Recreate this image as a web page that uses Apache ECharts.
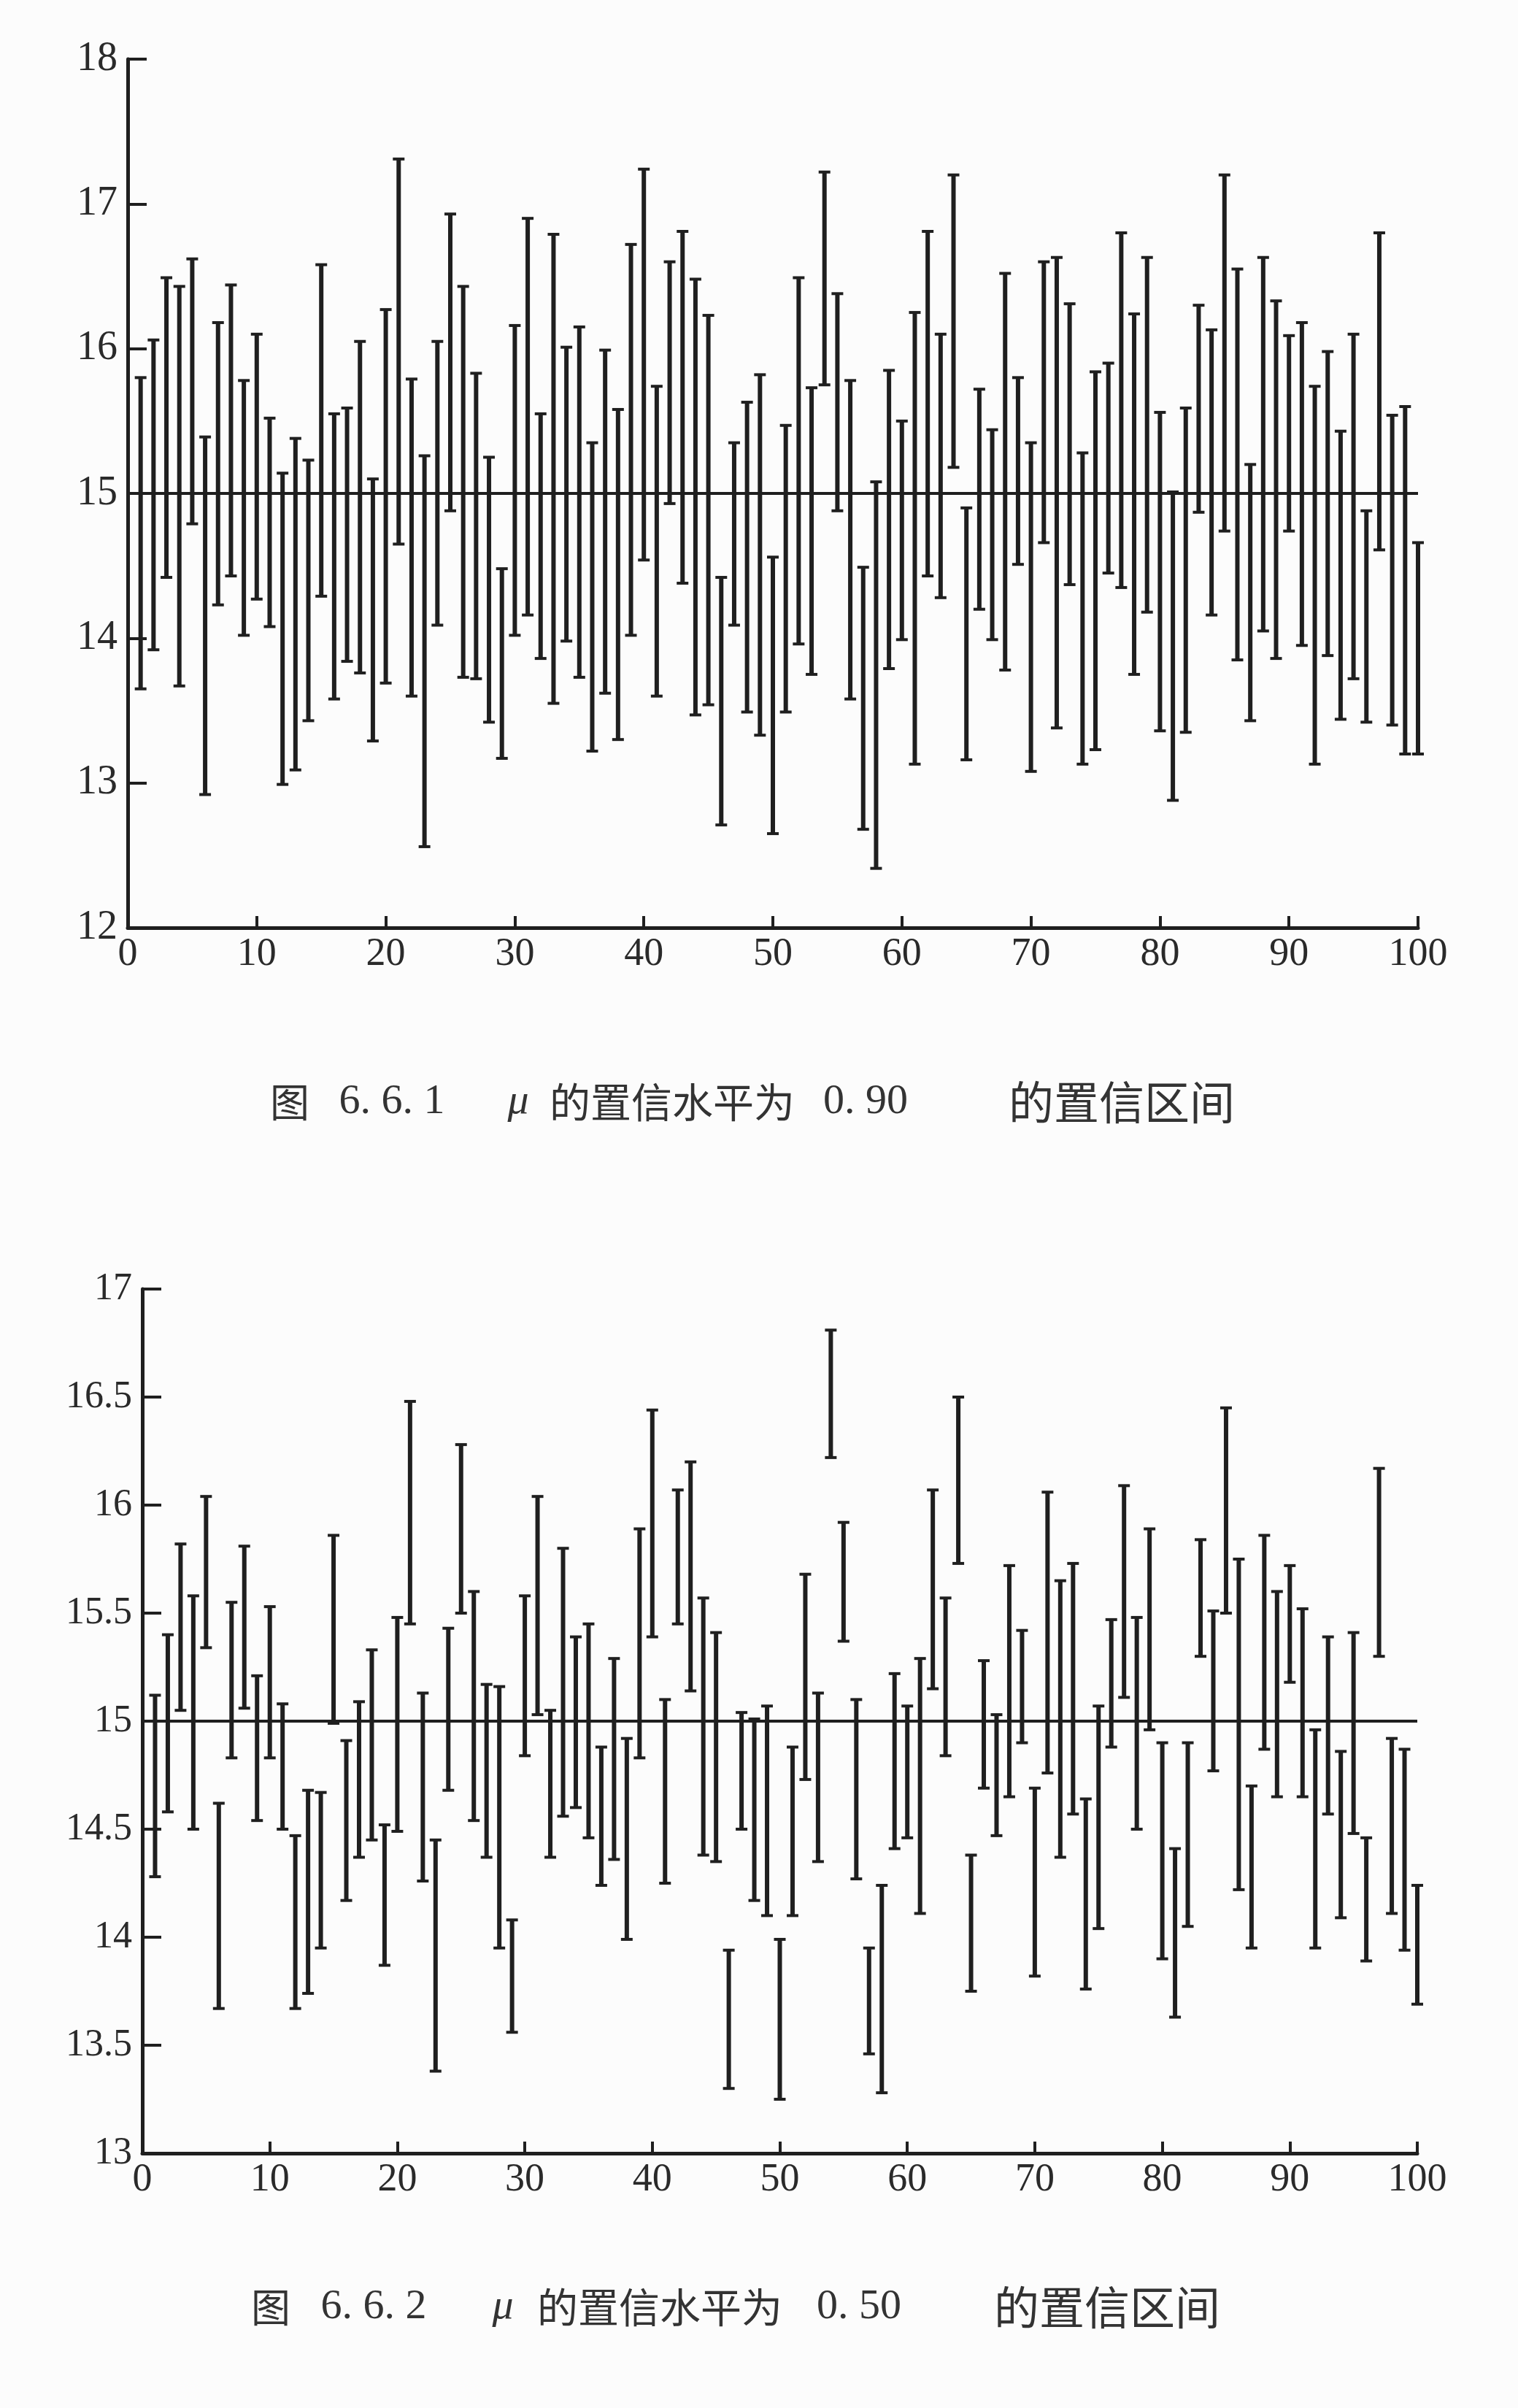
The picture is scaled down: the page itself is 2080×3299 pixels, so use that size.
<!DOCTYPE html>
<html>
<head>
<meta charset="utf-8">
<script src="https://cdn.jsdelivr.net/npm/echarts@6/dist/echarts.min.js"></script>
<style>
html,body{margin:0;padding:0;background:#fcfcfc;}
#chart{width:2080px;height:3299px;}
</style>
</head>
<body>
<div id="chart"></div>
<script>
// sample numbers (x positions of the 100 intervals)
const sampleNo = [1,2,3,4,5,6,7,8,9,10,11,12,13,14,15,16,17,18,19,20,21,22,23,24,25,26,27,28,29,30,31,32,33,34,35,36,37,38,39,40,41,42,43,44,45,46,47,48,49,50,51,52,53,54,55,56,57,58,59,60,61,62,63,64,65,66,67,68,69,70,71,72,73,74,75,76,77,78,79,80,81,82,83,84,85,86,87,88,89,90,91,92,93,94,95,96,97,98,99,100];

// Figure 6.6.1 : confidence level 0.90
const lower90 = [13.65,13.92,14.42,13.67,14.79,12.92,14.23,14.43,14.02,14.27,
  14.08,12.99,13.09,13.43,14.29,13.58,13.84,13.76,13.29,13.69,
  14.65,13.60,12.56,14.09,14.88,13.73,13.72,13.42,13.17,14.02,
  14.16,13.86,13.55,13.98,13.73,13.22,13.62,13.30,14.02,14.54,
  13.60,14.93,14.38,13.47,13.54,12.71,14.09,13.49,13.33,12.65,
  13.49,13.96,13.75,15.75,14.88,13.58,12.68,12.41,13.79,13.99,
  13.13,14.43,14.28,15.18,13.16,14.20,13.99,13.78,14.51,13.08,
  14.66,13.38,14.37,13.13,13.23,14.45,14.35,13.75,14.18,13.36,
  12.88,13.35,14.87,14.16,14.74,13.85,13.43,14.05,13.86,14.74,
  13.95,13.13,13.88,13.44,13.72,13.42,14.61,13.40,13.20,13.20];
const upper90 = [15.80,16.06,16.49,16.43,16.62,15.39,16.18,16.44,15.78,16.10,
  15.52,15.14,15.38,15.23,16.58,15.55,15.59,16.05,15.10,16.27,
  17.31,15.79,15.26,16.05,16.93,16.43,15.83,15.25,14.48,16.16,
  16.90,15.55,16.79,16.01,16.15,15.35,15.99,15.58,16.72,17.24,
  15.74,16.60,16.81,16.48,16.23,14.42,15.35,15.63,15.82,14.56,
  15.47,16.49,15.73,17.22,16.38,15.78,14.49,15.08,15.85,15.50,
  16.25,16.81,16.10,17.20,14.90,15.72,15.44,16.52,15.80,15.35,
  16.60,16.63,16.31,15.28,15.84,15.90,16.80,16.24,16.63,15.56,
  15.01,15.59,16.30,16.13,17.20,16.55,15.20,16.63,16.33,16.09,
  16.18,15.74,15.98,15.43,16.10,14.88,16.80,15.54,15.60,14.66];

// Figure 6.6.2 : confidence level 0.50
const lower50 = [14.28,14.58,15.05,14.50,15.34,13.67,14.83,15.06,14.54,14.83,
  14.50,13.67,13.74,13.95,14.99,14.17,14.37,14.45,13.87,14.49,
  15.45,14.26,13.38,14.68,15.50,14.54,14.37,13.95,13.56,14.84,
  15.03,14.37,14.56,14.60,14.46,14.24,14.36,13.99,14.83,15.39,
  14.25,15.45,15.14,14.38,14.35,13.30,14.50,14.17,14.10,13.25,
  14.10,14.73,14.35,16.22,15.37,14.27,13.46,13.28,14.41,14.46,
  14.11,15.15,14.84,15.73,13.75,14.69,14.47,14.65,14.90,13.82,
  14.76,14.37,14.57,13.76,14.04,14.88,15.11,14.50,14.96,13.90,
  13.63,14.05,15.30,14.77,15.50,14.22,13.95,14.87,14.65,15.18,
  14.65,13.95,14.57,14.09,14.48,13.89,15.30,14.11,13.94,13.69];
const upper50 = [15.12,15.40,15.82,15.58,16.04,14.62,15.55,15.81,15.21,15.53,
  15.08,14.47,14.68,14.67,15.86,14.91,15.09,15.33,14.52,15.48,
  16.48,15.13,14.45,15.43,16.28,15.60,15.17,15.16,14.08,15.58,
  16.04,15.05,15.80,15.39,15.45,14.88,15.29,14.92,15.89,16.44,
  15.10,16.07,16.20,15.57,15.41,13.94,15.04,15.01,15.07,13.99,
  14.88,15.68,15.13,16.81,15.92,15.10,13.95,14.24,15.22,15.07,
  15.29,16.07,15.57,16.50,14.38,15.28,15.03,15.72,15.42,14.69,
  16.06,15.65,15.73,14.64,15.07,15.47,16.09,15.48,15.89,14.90,
  14.41,14.90,15.84,15.51,16.45,15.75,14.70,15.86,15.60,15.72,
  15.52,14.96,15.39,14.86,15.41,14.46,16.17,14.92,14.87,14.24];

// true mean and x range of the reference line
const mu = 15;
const xRange = [0, 100];

// axis tick labels
const xTicks = [0,10,20,30,40,50,60,70,80,90,100];
const yTicks90 = [12,13,14,15,16,17,18];
const yTicks50 = [13,13.5,14,14.5,15,15.5,16,16.5,17];

// captions
const caption1 = ['图', '6. 6. 1', 'μ', '的置信水平为', '0. 90', '的置信区间'];
const caption2 = ['图', '6. 6. 2', 'μ', '的置信水平为', '0. 50', '的置信区间'];

const INK = '#1f1f1f';
const serif = '"Liberation Serif","DejaVu Serif",serif';
const cjk = '"Noto Sans CJK SC","Noto Sans",sans-serif';

function renderInterval(params, api) {
  const x = api.value(0), lo = api.value(1), hi = api.value(2);
  const p1 = api.coord([x, lo]);
  const p2 = api.coord([x, hi]);
  const hw = 8;
  return {
    type: 'group',
    children: [
      {type:'line', shape:{x1:p1[0], y1:p1[1], x2:p2[0], y2:p2[1]}, style:{stroke:INK, lineWidth:6}},
      {type:'line', shape:{x1:p1[0]-hw, y1:p1[1], x2:p1[0]+hw, y2:p1[1]}, style:{stroke:INK, lineWidth:4}},
      {type:'line', shape:{x1:p2[0]-hw, y1:p2[1], x2:p2[0]+hw, y2:p2[1]}, style:{stroke:INK, lineWidth:4}}
    ]
  };
}

function xAxisCfg(gridIndex) {
  return {
    type:'value', gridIndex, min:xTicks[0], max:xTicks[xTicks.length-1], interval:10,
    axisLine:{show:true, lineStyle:{color:INK, width:5}},
    axisTick:{show:true, inside:true, length:16, lineStyle:{color:INK, width:4}},
    splitLine:{show:false},
    axisLabel:{show:true, margin:10, fontFamily:serif, fontSize:54, color:'#2a2a2a',
      formatter:(v)=> xTicks.includes(v) ? String(v) : ''}
  };
}
function yAxisCfg(gridIndex, ticks, interval, fs) {
  return {
    type:'value', gridIndex, min:ticks[0], max:ticks[ticks.length-1], interval,
    axisLine:{show:true, lineStyle:{color:INK, width:5}},
    axisTick:{show:true, inside:true, length:26, lineStyle:{color:INK, width:4}},
    splitLine:{show:false},
    axisLabel:{show:true, margin:14, fontFamily:serif, fontSize:fs, color:'#2a2a2a',
      formatter:(v)=> String(v)}
  };
}

const data90 = sampleNo.map((n,i)=>[n, lower90[i], upper90[i]]);
const data50 = sampleNo.map((n,i)=>[n, lower50[i], upper50[i]]);

function captionGraphics(parts, centers, y) {
  const fonts = [cjk, serif, serif, cjk, serif, cjk];
  const sizes = [54, 58, 58, 56, 58, 62];
  const styles = ['normal','normal','italic','normal','normal','normal'];
  return parts.map((t,i)=>({
    type:'text', x:centers[i], y:y,
    style:{text:t, fill:'#333333', fontFamily:fonts[i], fontSize:sizes[i], fontStyle:styles[i],
      align:'center', verticalAlign:'middle'}
  }));
}

const chart = echarts.init(document.getElementById('chart'), null, {renderer:'canvas'});
chart.setOption({
  animation:false,
  backgroundColor:'#fcfcfc',
  grid:[
    {left:175, top:81, width:1768, height:1190},
    {left:195, top:1766, width:1747, height:1184}
  ],
  xAxis:[xAxisCfg(0), xAxisCfg(1)],
  yAxis:[yAxisCfg(0, yTicks90, 1, 56), yAxisCfg(1, yTicks50, 0.5, 52)],
  series:[
    {type:'line', xAxisIndex:0, yAxisIndex:0, data:[[xRange[0],mu],[xRange[1],mu]],
      symbol:'none', lineStyle:{color:INK, width:4}, z:1},
    {type:'custom', xAxisIndex:0, yAxisIndex:0, data:data90, renderItem:renderInterval,
      encode:{x:0, y:[1,2]}, z:2},
    {type:'line', xAxisIndex:1, yAxisIndex:1, data:[[xRange[0],mu],[xRange[1],mu]],
      symbol:'none', lineStyle:{color:INK, width:4}, z:1},
    {type:'custom', xAxisIndex:1, yAxisIndex:1, data:data50, renderItem:renderInterval,
      encode:{x:0, y:[1,2]}, z:2}
  ],
  graphic:[].concat(
    captionGraphics(caption1, [397, 537, 710, 921, 1186, 1537], 1510),
    captionGraphics(caption2, [371, 512, 689, 904, 1177, 1517], 3161)
  )
});
</script>
</body>
</html>
